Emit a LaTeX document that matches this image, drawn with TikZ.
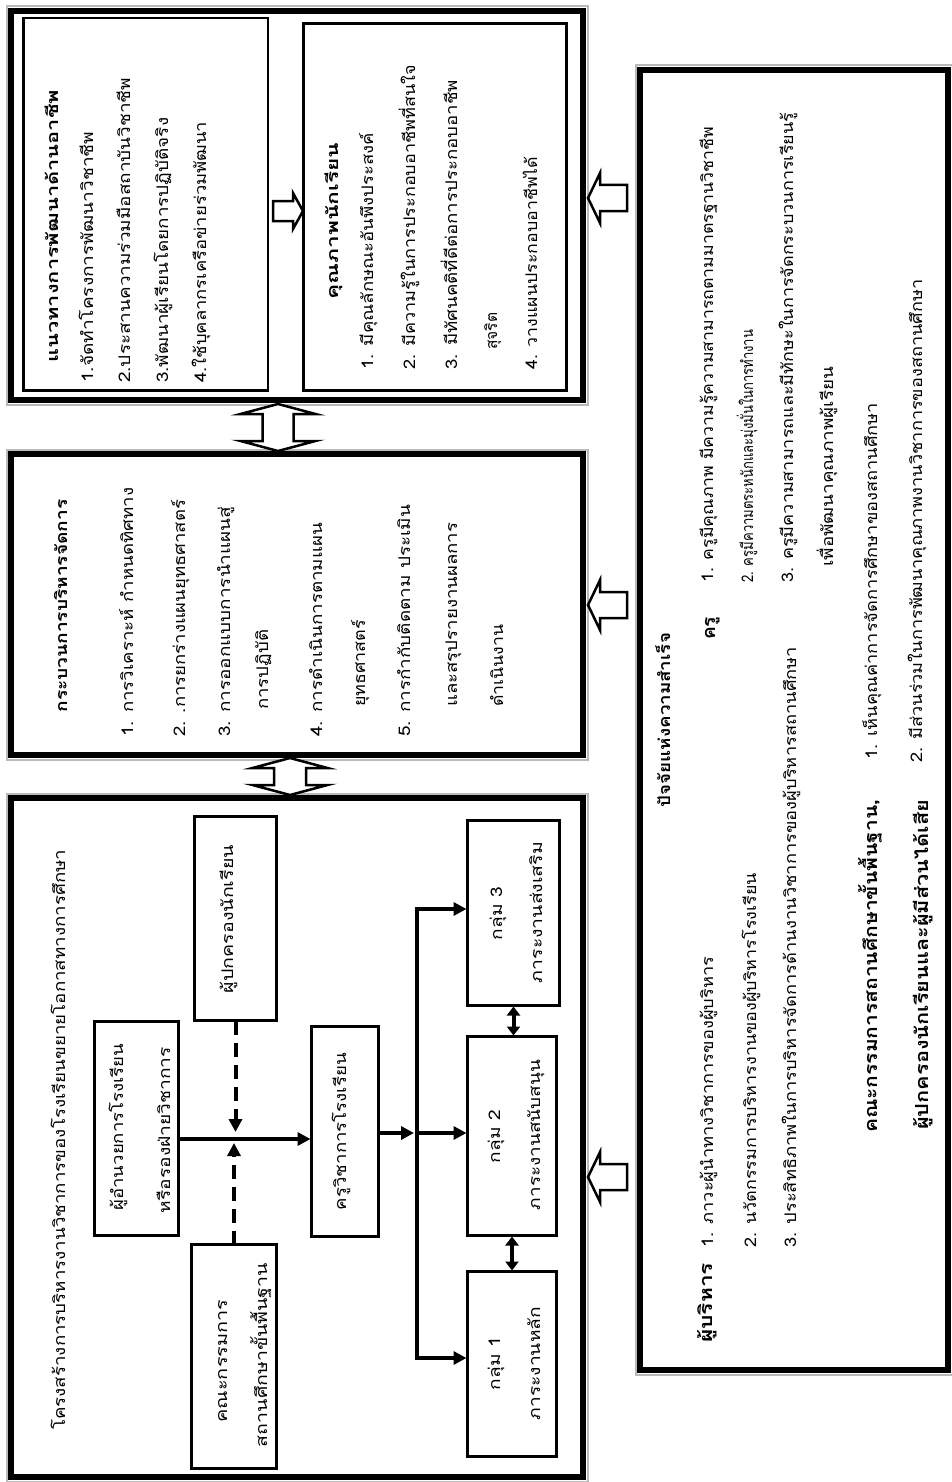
\documentclass[tikz,border=0pt]{standalone}
\usepackage{graphicx}
\usepackage{fontspec}
\newfontfamily\thai[Script=Thai]{Loma}
\usetikzlibrary{arrows.meta}
\newcommand\fw[2]{\resizebox{#1pt}{\height}{#2}}
\begin{document}
\begin{tikzpicture}[x=1pt,y=-1pt,
  bigbox/.style={draw, line width=6pt, inner sep=0pt, outer sep=0pt},
  shade/.style={draw=gray!55, line width=2pt},
  innerbox/.style={draw, line width=2.5pt, inner sep=0pt, outer sep=0pt},
  smallbox/.style={draw, line width=3pt, rotate=90, inner sep=0pt, outer sep=0pt},
  tl/.style={rotate=90, anchor=base west, inner sep=0pt, font=\thai\fontsize{16}{18}\selectfont},
  tc/.style={tl, anchor=base},
  tb/.style={tl, font=\thai\bfseries\fontsize{16}{18}\selectfont},
  tB/.style={tl, font=\thai\bfseries\fontsize{18}{22}\selectfont},
  flow/.style={line width=4pt, -{Triangle[length=13pt,width=13pt]}, shorten >=1pt},
  dflow/.style={line width=4pt, dash pattern=on 14pt off 8pt, -{Triangle[length=13pt,width=13pt]}},
  dbl/.style={line width=4pt, {Triangle[length=9pt,width=13pt]}-{Triangle[length=9pt,width=13pt]}, shorten <=1pt, shorten >=1pt},
  hollow/.style={draw, line width=2.5pt, fill=white, line join=miter}
]
\useasboundingbox (0,0) rectangle (951,1482);

% ---------- big frames ----------
\node[bigbox, minimum width=572pt, minimum height=389pt] (B3) at (297,205.5) {};
\node[bigbox, minimum width=572pt, minimum height=301pt] (B2) at (297,604.5) {};
\node[bigbox, minimum width=572pt, minimum height=679pt] (B1) at (297,1137.5) {};
\node[bigbox, minimum width=308pt, minimum height=1300pt] (F) at (794,720) {};
\foreach \b in {B3,B2,B1,F}
  \draw[shade] ([shift={(-4.5,4.5)}]\b.south west) rectangle ([shift={(4.5,-4.5)}]\b.north east);

% ---------- box 3 : inner boxes ----------
\node[innerbox, minimum width=244.5pt, minimum height=372.5pt] (N) at (145.75,204.25) {};
\node[innerbox, minimum width=263pt, minimum height=367pt] (Q) at (435,207) {};

\node[tb] (nt) at (58,363) {\fw{273}{แนวทางการพัฒนาด้านอาชีพ}};
\node[tl] (n1) at (93,383) {\fw{251}{1.จัดทำโครงการพัฒนาวิชาชีพ}};
\node[tl] (n2) at (130,383) {\fw{305}{2.ประสานความร่วมมือสถาบันวิชาชีพ}};
\node[tl] (n3) at (168,383) {\fw{265}{3.พัฒนาผู้เรียนโดยการปฏิบัติจริง}};
\node[tl] (n4) at (206,383) {\fw{261}{4.ใช้บุคลากรเครือข่ายร่วมพัฒนา}};

\node[tb] (qt) at (338,300) {\fw{157}{คุณภาพนักเรียน}};
\node[tl] (q1) at (373,370) {\fw{237}{1. มีคุณลักษณะอันพึงประสงค์}};
\node[tl] (q2) at (415,370) {\fw{305}{2. มีความรู้ในการประกอบอาชีพที่สนใจ}};
\node[tl] (q3) at (457,370) {\fw{290}{3. มีทัศนคติที่ดีต่อการประกอบอาชีพ}};
\node[tl] (q3b) at (497,350) {\fw{37}{สุจริต}};
\node[tl] (q4) at (537,370) {\fw{213}{4. วางแผนประกอบอาชีพได้}};

\draw[hollow] (303,211) -- (293,193) -- (293,201) -- (273,201) -- (273,221) -- (293,221) -- (293,229) -- cycle;

% ---------- box 2 : process ----------
\node[tb, anchor=base] (pt) at (67,606) {\fw{213}{กระบวนการบริหารจัดการ}};
\node[tl] (p1) at (133,737) {\fw{249}{1. การวิเคราะห์ กำหนดทิศทาง}};
\node[tl] (p2) at (185,737) {\fw{237}{2. .การยกร่างแผนยุทธศาสตร์}};
\node[tl] (p3) at (230,737) {\fw{230}{3. การออกแบบการนำแผนสู่}};
\node[tl] (p3b) at (268,710) {\fw{80}{การปฏิบัติ}};
\node[tl] (p4) at (322,737) {\fw{214}{4. การดำเนินการตามแผน}};
\node[tl] (p4b) at (365,707) {\fw{87}{ยุทธศาสตร์}};
\node[tl] (p5) at (410,737) {\fw{232}{5. การกำกับติดตาม ประเมิน}};
\node[tl] (p5b) at (457,707) {\fw{184}{และสรุปรายงานผลการ}};
\node[tl] (p5c) at (503,707) {\fw{82}{ดำเนินงาน}};

% ---------- box 1 : structure ----------
\node[tl] (st) at (65,1430) {\fw{580}{โครงสร้างการบริหารงานวิชาการของโรงเรียนขยายโอกาสทางการศึกษา}};
\node[smallbox, minimum width=224pt, minimum height=85pt] (C) at (234,1356.5) {};
\node[smallbox, minimum width=214pt, minimum height=84pt] (D) at (136.5,1128.5) {};
\node[smallbox, minimum width=204pt, minimum height=82pt] (P) at (235.5,918.5) {};
\node[smallbox, minimum width=210pt, minimum height=67pt] (K) at (345,1131.5) {};
\node[smallbox, minimum width=185pt, minimum height=92pt] (G3) at (513.5,913) {};
\node[smallbox, minimum width=199pt, minimum height=89pt] (G2) at (512,1136) {};
\node[smallbox, minimum width=185pt, minimum height=89pt] (G1) at (512,1364) {};

\node[tc] (Ct1) at (227,1361) {\fw{123}{คณะกรรมการ}};
\node[tc] (Ct2) at (267,1355) {\fw{184}{สถานศึกษาขั้นพื้นฐาน}};
\node[tc] (Dt1) at (123,1127) {\fw{167}{ผู้อำนวยการโรงเรียน}};
\node[tc] (Dt2) at (170,1130) {\fw{166}{หรือรองฝ่ายวิชาการ}};
\node[tc] (Pt) at (233,919) {\fw{148}{ผู้ปกครองนักเรียน}};
\node[tc] (Kt) at (346,1131.5) {\fw{157}{ครูวิชาการโรงเรียน}};
\node[tc] (G3t1) at (502,913.5) {\fw{53}{กลุ่ม 3}};
\node[tc] (G3t2) at (542,912.5) {\fw{141}{ภาระงานส่งเสริม}};
\node[tc] (G2t1) at (500,1136.5) {\fw{53}{กลุ่ม 2}};
\node[tc] (G2t2) at (540,1135) {\fw{150}{ภาระงานสนับสนุน}};
\node[tc] (G1t1) at (500,1363.5) {\fw{53}{กลุ่ม 1}};
\node[tc] (G1t2) at (540,1363.5) {\fw{113}{ภาระงานหลัก}};

\coordinate (m) at (237,1139);
\coordinate (mt) at (236,1132);
\coordinate (mb) at (236,1143);
\coordinate (bt) at (417,909);
\coordinate (bm) at (417,1133);
\coordinate (bb) at (417,1358);

\draw[flow] (D.south |- m) -- (K.north |- m);
\draw[dflow] (P.west) -- (P.west |- mt);
\draw[dflow] (C.east) -- (C.east |- mb);
\draw[flow] (K.south |- bm) -- ([xshift=-2pt]bm);
\draw[line width=4pt, line cap=rect] (bt) -- (bb);
\draw[flow] (bt) -- (G3.north |- bt);
\draw[flow] (bm) -- (G2.north |- bm);
\draw[flow] (bb) -- (G1.north |- bb);
\draw[dbl] (G3.west) -- (G3.west |- G2.east);
\draw[dbl] (G2.west) -- (G2.west |- G1.east);

% ---------- hollow connectors between frames ----------
\draw[hollow] (278,404) -- (315.5,414) -- (293.5,414) -- (293.5,441) -- (315.5,441) -- (278,451) -- (240.5,441) -- (262.5,441) -- (262.5,414) -- (240.5,414) -- cycle;
\draw[hollow] (290,758) -- (327.5,768) -- (306,768) -- (306,785) -- (327.5,785) -- (290,795) -- (252.5,785) -- (274,785) -- (274,768) -- (252.5,768) -- cycle;
\foreach \c in {198,605,1177}
  \draw[hollow] (588,\c) -- (600,\c-25) -- (600,\c-13) -- (627,\c-13) -- (627,\c+13) -- (600,\c+13) -- (600,\c+25) -- cycle;

% ---------- success factors ----------
\node[tb, anchor=base] (ft) at (670,720) {\fw{174}{ปัจจัยแห่งความสำเร็จ}};
\node[tB] (fa) at (712,1343) {\fw{80}{ผู้บริหาร}};
\node[tl] (fa1) at (713,1248) {\fw{291}{1. ภาวะผู้นำทางวิชาการของผู้บริหาร}};
\node[tl] (fa2) at (756,1248) {\fw{375}{2. นวัตกรรมการบริหารงานของผู้บริหารโรงเรียน}};
\node[tl] (fa3) at (796,1248) {\fw{601}{3. ประสิทธิภาพในการบริหารจัดการด้านงานวิชาการของผู้บริหารสถานศึกษา}};
\node[tB] (fk) at (715,640) {\fw{23}{ครู}};
\node[tl] (fk1) at (713,583) {\fw{456}{1. ครูมีคุณภาพ มีความรู้ความสามารถตามมาตรฐานวิชาชีพ}};
\node[tl] (fk2) at (753,583) {\fw{253}{2. ครูมีความตระหนักและมุ่งมั่นในการทำงาน}};
\node[tl] (fk3) at (793,583) {\fw{470}{3. ครูมีความสามารถและมีทักษะในการจัดกระบวนการเรียนรู้}};
\node[tl] (fk3b) at (833,567) {\fw{200}{เพื่อพัฒนาคุณภาพผู้เรียน}};
\node[tB] (fc) at (877,1133) {\fw{333}{คณะกรรมการสถานศึกษาขั้นพื้นฐาน,}};
\node[tl] (fc1) at (877,760) {\fw{357}{1. เห็นคุณค่าการจัดการศึกษาของสถานศึกษา}};
\node[tB] (fp) at (928,1130) {\fw{330}{ผู้ปกครองนักเรียนและผู้มีส่วนได้เสีย}};
\node[tl] (fc2) at (922,763) {\fw{483}{2. มีส่วนร่วมในการพัฒนาคุณภาพงานวิชาการของสถานศึกษา}};
\end{tikzpicture}
\end{document}
